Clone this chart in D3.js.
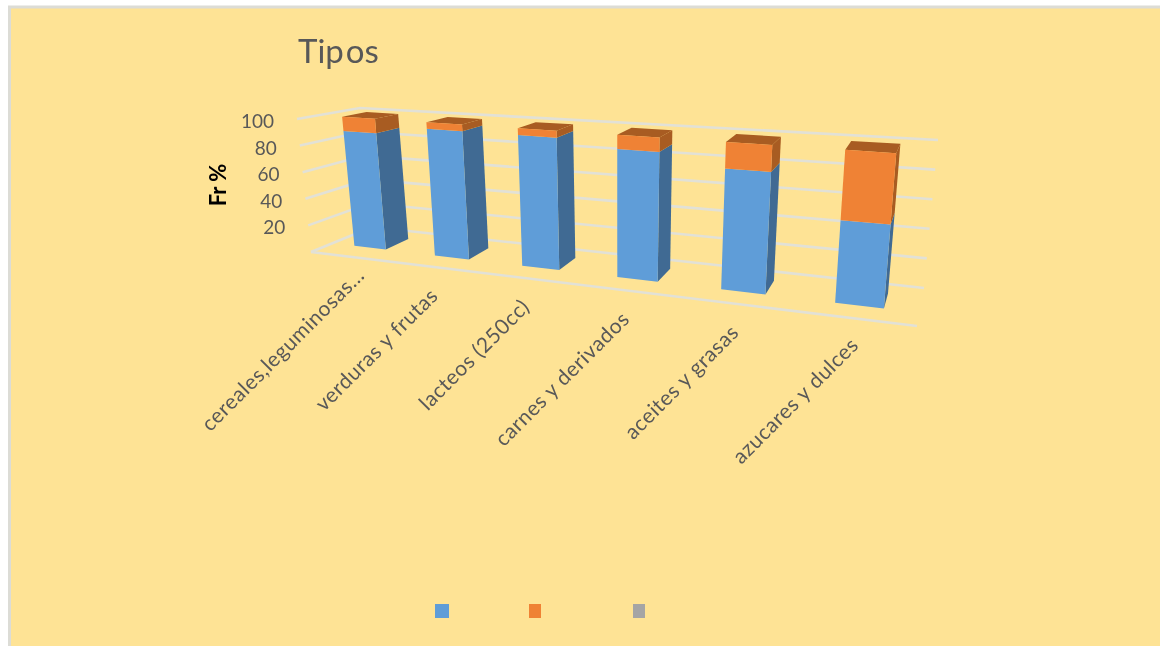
<!DOCTYPE html>
<html><head><meta charset="utf-8">
<script src="https://cdn.jsdelivr.net/npm/d3@7"></script>
<style>html,body{margin:0;background:#fff}svg{display:block}text{font-family:Lato,"Open Sans",sans-serif}</style>
</head><body><svg id="c" width="1160" height="646"></svg>
<script>
const categories = ["cereales,leguminosas…","verduras y frutas","lacteos (250cc)","carnes y derivados","aceites y grasas","azucares y dulces"];
const seriesBlue = [89,95,95,90,82,54];
const seriesOrange = [11,5,5,10,18,46];
const yTicks = [20,40,60,80,100];
const gridValues = [0,20,40,60,80,100];
const legendColors = ["#5f9dd8","#ef8234","#a5a5a5"];

const svg = d3.select("#c");
svg.append("rect").attr("x",9.5).attr("y",7).attr("width",1170).attr("height",660).attr("fill","#fee395").attr("stroke","#dcdcd6").attr("stroke-width",3);
const defs = svg.append("defs");
defs.append("filter").attr("id","soft").append("feGaussianBlur").attr("stdDeviation",0.55);
defs.append("filter").attr("id","softText").append("feGaussianBlur").attr("stdDeviation",0.3);

// plot box corners on screen: [front/back][left/right][bottom/top]
const C = {
  FL0:[311,252],FL1:[297,119],BL0:[372,227],BL1:[360,108],
  FR0:[917,326],FR1:[931,164],BR0:[924,288],BR1:[938,140]
};
const warp = 1.3;
const tU = u => u/(u+warp*(1-u));
const dS = d3.scaleLinear().domain([0,1]).range([0,1]);
const vS = d3.scaleLinear().domain([0,100]).range([0,1]);
const band = d3.scaleBand().domain(categories).range([-0.002,1.003]).paddingInner(0.6).paddingOuter(0.3);
const lerp = d3.interpolateNumber;
function P(u,d,v){
  const t=tU(u), dd=dS(d), w=vS(v), r=[];
  for(const k of [0,1]){
    const L0=lerp(C.FL0[k],C.BL0[k])(dd), L1=lerp(C.FL1[k],C.BL1[k])(dd);
    const R0=lerp(C.FR0[k],C.BR0[k])(dd), R1=lerp(C.FR1[k],C.BR1[k])(dd);
    r.push(lerp(lerp(L0,R0)(t),lerp(L1,R1)(t))(w));
  }
  return r;
}
const line = d3.line();
const poly = (g,pts,fill)=>g.append("path").attr("d",line(pts)+"Z").attr("fill",fill);

// gridlines
const grid = svg.append("g").attr("fill","none").attr("stroke","#e2e1d6").attr("stroke-width",2.6).attr("filter","url(#soft)");
gridValues.forEach(v=>{
  grid.append("path").attr("d",line([P(0,0,v),P(0,1,v),P(1,1,v)]));
});
grid.append("path").attr("d",line([P(0,0,0),P(1,0,0)]));

// bars
const bars = svg.append("g").attr("filter","url(#soft)");
const d0=0.35,d1=0.75;
categories.forEach((c,i)=>{
  const a=band(c), b=a+band.bandwidth();
  const g=bars.append("g");
  const v1=seriesBlue[i], v2=v1+seriesOrange[i];
  poly(g,[P(b,d0,0),P(b,d1,0),P(b,d1,v1),P(b,d0,v1)],"#3f6b93");
  poly(g,[P(b,d0,v1),P(b,d1,v1),P(b,d1,v2),P(b,d0,v2)],"#a85c20");
  poly(g,[P(a,d0,v2),P(b,d0,v2),P(b,d1,v2),P(a,d1,v2)],"#a85c20");
  poly(g,[P(a,d0,0),P(b,d0,0),P(b,d0,v1),P(a,d0,v1)],"#5f9dd8");
  poly(g,[P(a,d0,v1),P(b,d0,v1),P(b,d0,v2),P(a,d0,v2)],"#ef8234");
});

// texts
const grey="#595959";
const texts = svg.append("g").attr("filter","url(#softText)");
const title = texts.append("text").attr("x",298).attr("y",63).attr("font-size",33).attr("fill",grey);
title.append("tspan").text("Tip");
title.append("tspan").attr("dx",2).text("os");
yTicks.forEach(v=>{
  const p=P(0,0,v);
  texts.append("text").attr("x",p[0]-23).attr("y",p[1]+9).attr("text-anchor","end").attr("font-size",19).attr("fill",grey).text(v);
});
texts.append("text").attr("transform","translate(226,185) rotate(-90)").attr("text-anchor","middle").attr("font-size",22).attr("font-weight",700).attr("fill","#000").text("Fr %");
const labelNudge = [[11,-10],[0,0],[0,0],[0,0],[0,0],[0,-2]];
categories.forEach((c,i)=>{
  const p=P(band(c)+band.bandwidth()/2,0,0);
  texts.append("text").attr("transform",`translate(${p[0]+5+labelNudge[i][0]},${p[1]+30+labelNudge[i][1]}) rotate(-45)`).attr("text-anchor","end").attr("font-size",21).attr("letter-spacing",0.55).attr("fill",grey).text(c);
});
// legend
const lw=[14,12,12], lxs=[435,529,633];
legendColors.forEach((col,i)=>{
  svg.append("rect").attr("x",lxs[i]).attr("y",604).attr("width",lw[i]).attr("height",14).attr("fill",col);
});
</script></body></html>
